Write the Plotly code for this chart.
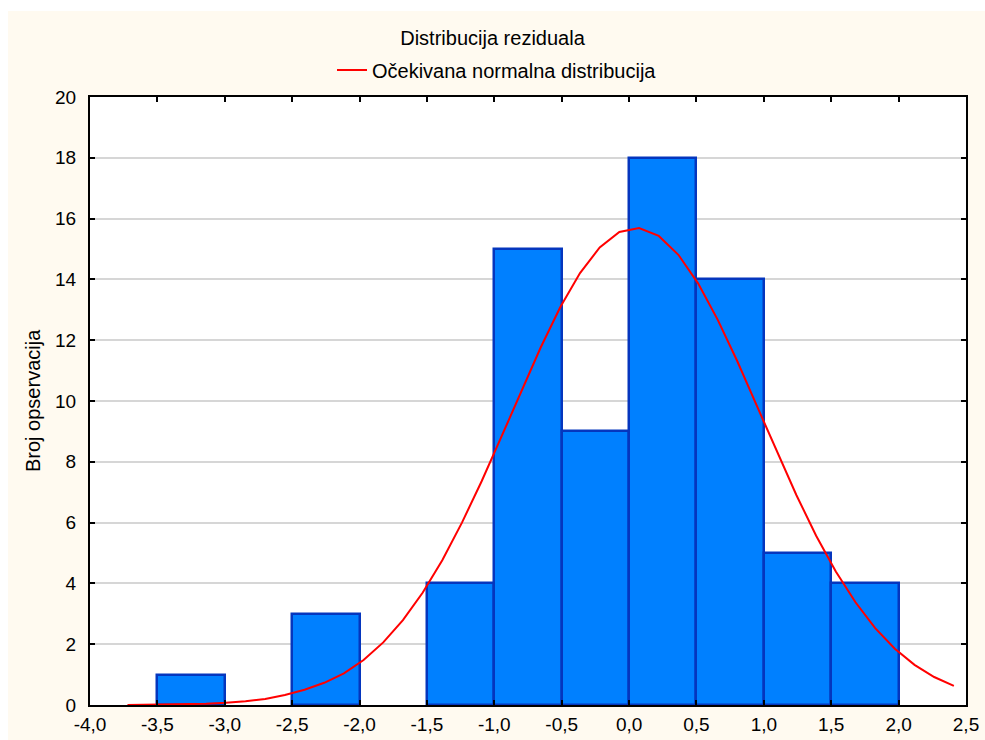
import plotly.graph_objects as go

# ---- data ----
bin_starts = [-3.5, -3.0, -2.5, -2.0, -1.5, -1.0, -0.5, 0.0, 0.5, 1.0, 1.5]
bin_width = 0.5
counts = [1, 0, 3, 0, 4, 15, 9, 18, 14, 5, 4]

curve_x = [-3.722, -3.576, -3.430, -3.284, -3.138, -2.992, -2.846, -2.700, -2.554, -2.408,
           -2.262, -2.116, -1.970, -1.824, -1.678, -1.532, -1.386, -1.240, -1.094, -0.948,
           -0.802, -0.656, -0.510, -0.364, -0.218, -0.072, 0.074, 0.220, 0.366, 0.512,
           0.658, 0.804, 0.950, 1.096, 1.242, 1.388, 1.534, 1.680, 1.826, 1.972,
           2.118, 2.264, 2.410]
curve_y = [0.00, 0.01, 0.01, 0.02, 0.04, 0.07, 0.12, 0.20, 0.33, 0.50,
           0.73, 1.04, 1.48, 2.06, 2.79, 3.69, 4.76, 6.00, 7.36, 8.82,
           10.31, 11.76, 13.09, 14.21, 15.05, 15.56, 15.69, 15.43, 14.81, 13.87,
           12.67, 11.30, 9.82, 8.34, 6.90, 5.57, 4.39, 3.38, 2.53, 1.85,
           1.32, 0.92, 0.63]

x_tick_vals = [-4.0, -3.5, -3.0, -2.5, -2.0, -1.5, -1.0, -0.5, 0.0, 0.5, 1.0, 1.5, 2.0, 2.5]
x_tick_text = ["-4,0", "-3,5", "-3,0", "-2,5", "-2,0", "-1,5", "-1,0", "-0,5",
               "0,0", "0,5", "1,0", "1,5", "2,0", "2,5"]
y_tick_vals = [0, 2, 4, 6, 8, 10, 12, 14, 16, 18, 20]

title_text = "Distribucija reziduala"
legend_text = "Očekivana normalna distribucija"
y_title = "Broj opservacija"

# ---- figure fills the whole window (page margin removed below) ----
W, H = 985, 740
L, T = 90, 97
R = W - 966
B = H - 705
pw, ph = W - L - R, H - T - B


def px_x(p):  # page pixel -> paper x
    return (p - L) / pw


def px_y(p):  # page pixel -> paper y
    return (H - B - p) / ph


FONT = "Liberation Sans, Arial, sans-serif"
CREAM = "#FFFAF0"

centers = [s + bin_width / 2 for s in bin_starts]
edge_widths = [2.5 if c > 0 else 0 for c in counts]

fig = go.Figure()
fig.add_trace(go.Bar(
    x=centers, y=counts, width=[bin_width] * len(counts),
    marker=dict(color="#0080FF", line=dict(color="#0536BE", width=edge_widths)),
    showlegend=False, hoverinfo="x+y",
))
fig.add_trace(go.Scatter(
    x=curve_x, y=curve_y, mode="lines",
    line=dict(color="#FF0000", width=2),
    name=legend_text, showlegend=True,
))

axis_common = dict(
    showline=True, linecolor="black", linewidth=2, mirror="ticks",
    ticks="inside", ticklen=5, tickwidth=2, tickcolor="black",
    tickfont=dict(family=FONT, size=19, color="black"),
    zeroline=False, ticklabeloverflow="allow", automargin=False,
)

fig.update_layout(
    width=W, height=H, autosize=False,
    margin=dict(l=L, r=R, t=T, b=B, pad=0, autoexpand=False),
    paper_bgcolor=CREAM, plot_bgcolor="white",
    bargap=0,
    title=dict(text=title_text, x=0.5, xref="container",
               xanchor="center", y=1 - 38 / H, yanchor="middle",
               font=dict(family=FONT, size=20, color="black")),
    legend=dict(orientation="h", xref="container", yref="container",
                x=497 / W, xanchor="center",
                y=1 - 70 / H, yanchor="middle", bgcolor="rgba(0,0,0,0)",
                font=dict(family=FONT, size=20, color="black"),
                itemwidth=30),
    xaxis=dict(range=[-4.0, 2.5], tickmode="array", tickvals=x_tick_vals,
               ticktext=x_tick_text, showgrid=False, ticklabelstandoff=1,
               **axis_common),
    yaxis=dict(range=[0, 20], tickmode="array", tickvals=y_tick_vals,
               showgrid=True, gridcolor="#D6D6D6", gridwidth=2,
               ticklabelstandoff=8, **axis_common),
    annotations=[dict(text=y_title, xref="paper", yref="paper",
                      x=px_x(33), y=0.5, textangle=-90, showarrow=False,
                      xanchor="center", yanchor="middle",
                      font=dict(family=FONT, size=20, color="black"))],
    shapes=[
        # white strips at the top and left edge of the picture
        dict(type="rect", xref="paper", yref="paper", layer="below",
             x0=px_x(0), x1=px_x(W), y0=px_y(11), y1=px_y(0),
             fillcolor="white", line=dict(width=0)),
        dict(type="rect", xref="paper", yref="paper", layer="below",
             x0=px_x(0), x1=px_x(8), y0=px_y(H), y1=px_y(0),
             fillcolor="white", line=dict(width=0)),
    ],
)

fig.write_html(
    "out.html",
    config={"displayModeBar": False},
    post_script="document.body.style.margin='0';"
                "document.documentElement.style.overflow='hidden';",
)
